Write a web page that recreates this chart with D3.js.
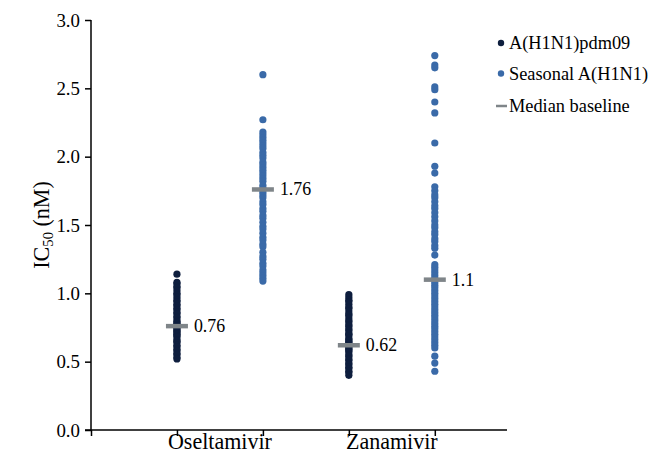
<!DOCTYPE html>
<html>
<head>
<meta charset="utf-8">
<script src="https://cdn.jsdelivr.net/npm/d3@7"></script>
<style>
  html, body { margin: 0; padding: 0; background: #fff; }
  svg { display: block; }
  svg text { font-family: "Liberation Serif", "Times New Roman", Times, "Nimbus Roman", "DejaVu Serif", serif; }
</style>
</head>
<body>
<svg id="chart" width="648" height="462"></svg>
<script>
// ---- data ----
const categories = ["Oseltamivir", "Zanamivir"];
const seriesNames = ["A(H1N1)pdm09", "Seasonal A(H1N1)"];
const medianLabel = "Median baseline";
const yTicks = [0.0, 0.5, 1.0, 1.5, 2.0, 2.5, 3.0];

const pdm09Oseltamivir = [1.14, 1.08, 1.07, 1.05, 1.04, 1.02, 1.00, 0.99, 0.97, 0.95, 0.94, 0.92, 0.91, 0.89, 0.88, 0.86, 0.85, 0.83, 0.82, 0.80, 0.79, 0.78, 0.77, 0.76, 0.75, 0.74, 0.73, 0.72, 0.71, 0.70, 0.69, 0.68, 0.66, 0.65, 0.64, 0.62, 0.61, 0.59, 0.58, 0.56, 0.55, 0.53, 0.52];
const seasonalOseltamivir = [2.60, 2.27, 2.18, 2.16, 2.14, 2.12, 2.10, 2.08, 2.06, 2.03, 2.01, 1.99, 1.96, 1.94, 1.92, 1.90, 1.88, 1.86, 1.84, 1.82, 1.79, 1.77, 1.76, 1.74, 1.72, 1.70, 1.67, 1.65, 1.62, 1.60, 1.57, 1.55, 1.52, 1.49, 1.47, 1.44, 1.41, 1.39, 1.36, 1.34, 1.30, 1.27, 1.25, 1.22, 1.20, 1.17, 1.15, 1.13, 1.11, 1.09];
const pdm09Zanamivir = [0.99, 0.97, 0.95, 0.94, 0.92, 0.90, 0.89, 0.87, 0.85, 0.84, 0.82, 0.80, 0.79, 0.77, 0.76, 0.74, 0.73, 0.71, 0.70, 0.69, 0.67, 0.66, 0.65, 0.64, 0.63, 0.62, 0.61, 0.60, 0.59, 0.58, 0.57, 0.55, 0.54, 0.52, 0.51, 0.49, 0.48, 0.46, 0.45, 0.43, 0.42, 0.40];
const seasonalZanamivir = [2.74, 2.67, 2.65, 2.51, 2.49, 2.40, 2.32, 2.10, 1.93, 1.88, 1.78, 1.75, 1.72, 1.70, 1.67, 1.64, 1.62, 1.59, 1.56, 1.53, 1.50, 1.48, 1.45, 1.43, 1.40, 1.38, 1.35, 1.33, 1.28, 1.21, 1.19, 1.17, 1.15, 1.13, 1.11, 1.10, 1.08, 1.06, 1.04, 1.02, 1.00, 0.98, 0.96, 0.94, 0.92, 0.90, 0.88, 0.86, 0.84, 0.82, 0.80, 0.78, 0.76, 0.74, 0.72, 0.70, 0.68, 0.66, 0.64, 0.62, 0.60, 0.54, 0.49, 0.43];

const medians = [0.76, 1.76, 0.62, 1.1];
const medianTexts = ["0.76", "1.76", "0.62", "1.1"];
const groups = [
  { cat: 0, ser: 0, values: pdm09Oseltamivir },
  { cat: 0, ser: 1, values: seasonalOseltamivir },
  { cat: 1, ser: 0, values: pdm09Zanamivir },
  { cat: 1, ser: 1, values: seasonalZanamivir }
];
groups.forEach((g, i) => { g.median = medians[i]; g.medianText = medianTexts[i]; });

// ---- styles ----
const colors = ["#0e1e3e", "#3a6aa8"];
const medianColor = "#7f8589";

const svg = d3.select("#chart");

// font calibration: "Oseltamivir" should be ~104px wide
const probe = svg.append("text").attr("font-size", 21).text(categories[0]);
const fs = 104 / probe.node().getComputedTextLength();
probe.remove();
const F = s => (s * fs).toFixed(2);

// ---- scales ----
const mLeft = 91, mRight = 507, mTop = 20, mBottom = 430;
const x = d3.scaleLinear().domain([0, 4.84]).range([mLeft, mRight]);
const y = d3.scaleLinear().domain([0, 3]).range([mBottom, mTop]);
const slot = g => g.cat * 2 + g.ser + 1;

// ---- axes ----
const yAxis = d3.axisLeft(y).tickValues(yTicks).tickFormat(d3.format(".1f")).tickSize(6).tickPadding(5);
const yG = svg.append("g").attr("transform", `translate(${mLeft},0)`).call(yAxis);
yG.select(".domain").attr("d", `M0,${mTop}V${mBottom}`);

const xAxis = d3.axisBottom(x).tickValues([0, 1, 2, 3, 4]).tickFormat("").tickSize(6);
const xG = svg.append("g").attr("transform", `translate(0,${mBottom})`).call(xAxis);
xG.select(".domain").attr("d", `M${mLeft - 6},0H${mRight}`);

[yG, xG].forEach(g => {
  g.attr("font-family", null);
  g.selectAll(".domain, .tick line").attr("stroke", "#000").attr("stroke-width", 1.5);
  g.selectAll("text").attr("font-size", F(18)).attr("fill", "#000");
});

// category labels
svg.selectAll(".cat").data(categories).enter().append("text")
  .attr("x", (d, i) => x(i * 2 + 1.5))
  .attr("y", 449)
  .attr("text-anchor", "middle")
  .attr("font-size", F(21))
  .text(d => d);

// y label
const yl = svg.append("text")
  .attr("transform", `translate(49,${(mTop + mBottom) / 2}) rotate(-90)`)
  .attr("text-anchor", "middle")
  .attr("font-size", F(21));
yl.append("tspan").text("IC");
yl.append("tspan").attr("font-size", F(14)).attr("dy", 4).text("50");
yl.append("tspan").attr("dy", -4).text(" (nM)");

// ---- dots ----
groups.forEach(g => {
  svg.append("g").selectAll("circle").data(g.values).enter().append("circle")
    .attr("cx", x(slot(g)))
    .attr("cy", d => y(d))
    .attr("r", 3.6)
    .attr("fill", colors[g.ser]);
});

// ---- medians ----
groups.forEach(g => {
  svg.append("line")
    .attr("x1", x(slot(g)) - 11).attr("x2", x(slot(g)) + 11)
    .attr("y1", y(g.median)).attr("y2", y(g.median))
    .attr("stroke", medianColor).attr("stroke-width", 4.5);
  svg.append("text")
    .attr("x", x(slot(g)) + 17)
    .attr("y", y(g.median) + 6)
    .attr("font-size", F(17))
    .text(g.medianText);
});

// ---- legend ----
const lg = svg.append("g");
seriesNames.forEach((n, i) => {
  const cy = 43 + i * 30.5;
  lg.append("circle").attr("cx", 501).attr("cy", cy).attr("r", 3.2).attr("fill", colors[i]);
  lg.append("text").attr("x", 509).attr("y", cy + 6).attr("font-size", F(17.5)).text(n);
});
lg.append("line").attr("x1", 496).attr("x2", 507).attr("y1", 106).attr("y2", 106)
  .attr("stroke", medianColor).attr("stroke-width", 2.5);
lg.append("text").attr("x", 509).attr("y", 112).attr("font-size", F(17.5)).text(medianLabel);
</script>
</body>
</html>
